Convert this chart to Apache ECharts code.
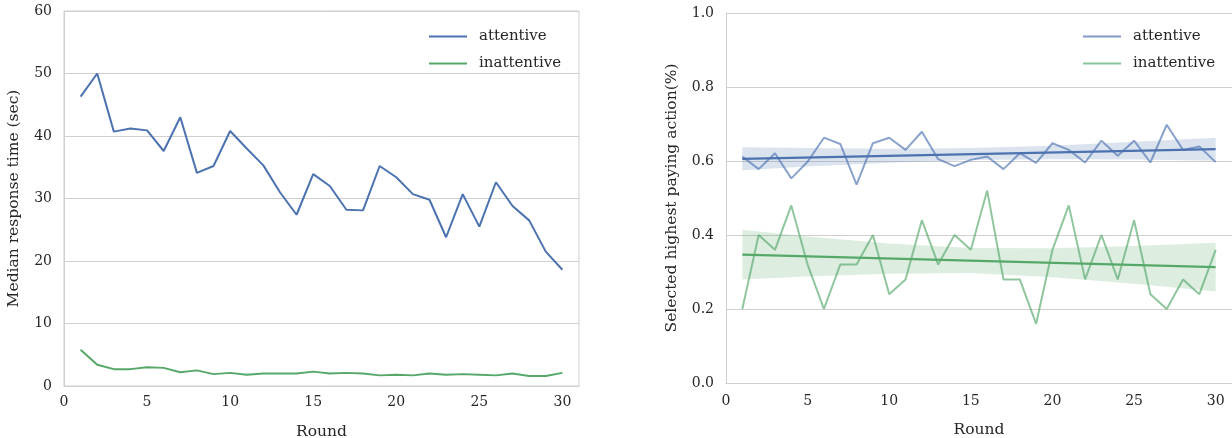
<!DOCTYPE html>
<html lang="en">
<head>
    <meta charset="UTF-8">
    <title>Response time and paying action</title>
    <script src="https://cdn.jsdelivr.net/npm/echarts@6/dist/echarts.min.js"></script>
    <style>
        html, body { margin: 0; padding: 0; background: #fff; }
        #chart { width: 1232px; height: 438px; }
    </style>
</head>
<body>
<div id="chart"></div>
<script>
    // rounds 1..30
    var rounds = [1, 2, 3, 4, 5, 6, 7, 8, 9, 10, 11, 12, 13, 14, 15,
                  16, 17, 18, 19, 20, 21, 22, 23, 24, 25, 26, 27, 28, 29, 30];

    // left: median response time (sec)
    var timeAttentive = [46.3, 50.0, 40.7, 41.2, 40.9, 37.6, 43.0, 34.1, 35.2, 40.8,
                         38.0, 35.3, 31.0, 27.4, 33.9, 32.0, 28.2, 28.1, 35.2, 33.4,
                         30.7, 29.8, 23.8, 30.7, 25.5, 32.6, 28.8, 26.5, 21.5, 18.6];
    var timeInattentive = [5.8, 3.4, 2.7, 2.7, 3.0, 2.9, 2.2, 2.5, 1.9, 2.1,
                           1.8, 2.0, 2.0, 2.0, 2.3, 2.0, 2.1, 2.0, 1.7, 1.8,
                           1.7, 2.0, 1.8, 1.9, 1.8, 1.7, 2.0, 1.6, 1.6, 2.1];

    // right: share selecting highest paying action
    var payAttentive = [0.612, 0.578, 0.621, 0.553, 0.598, 0.663, 0.646, 0.536, 0.648, 0.663,
                        0.630, 0.679, 0.605, 0.586, 0.603, 0.612, 0.578, 0.621, 0.595, 0.648,
                        0.630, 0.596, 0.655, 0.614, 0.655, 0.596, 0.698, 0.630, 0.639, 0.597];
    var payInattentive = [0.20, 0.40, 0.36, 0.48, 0.32, 0.20, 0.32, 0.32, 0.40, 0.24,
                          0.28, 0.44, 0.32, 0.40, 0.36, 0.52, 0.28, 0.28, 0.16, 0.36,
                          0.48, 0.28, 0.40, 0.28, 0.44, 0.24, 0.20, 0.28, 0.24, 0.36];

    // regression lines + confidence bands
    var fitX = [1, 30];
    var fitAttentive = [0.606, 0.632];
    var fitInattentive = [0.347, 0.313];
    var bandX = [1, 5, 10, 15, 20, 25, 30];
    var bandAttLo = [0.575, 0.585, 0.595, 0.603, 0.605, 0.604, 0.601];
    var bandAttHi = [0.637, 0.635, 0.633, 0.635, 0.641, 0.652, 0.663];
    var bandInaLo = [0.280, 0.288, 0.295, 0.297, 0.286, 0.268, 0.247];
    var bandInaHi = [0.414, 0.396, 0.377, 0.365, 0.364, 0.370, 0.379];

    var BLUE = '#4C72B0';
    var GREEN = '#55A868';
    var TXT = '#262626';
    var GRIDC = '#cfcfcf';
    var FONT = 'DejaVu Serif';

    function pairs(xs, ys) {
        return xs.map(function (x, i) { return [x, ys[i]]; });
    }

    function bandSeries(lo, hi, color) {
        return {
            type: 'custom',
            xAxisIndex: 1,
            yAxisIndex: 1,
            silent: true,
            z: 1,
            data: [[bandX[0], lo[0]]],
            renderItem: function (params, api) {
                var pts = [];
                for (var i = 0; i < bandX.length; i++) pts.push(api.coord([bandX[i], hi[i]]));
                for (var j = bandX.length - 1; j >= 0; j--) pts.push(api.coord([bandX[j], lo[j]]));
                return {
                    type: 'polygon',
                    shape: { points: pts },
                    style: { fill: color }
                };
            }
        };
    }

    var axisTxt = { color: TXT, fontFamily: FONT, fontSize: 14 };
    var nameTxt = { color: TXT, fontFamily: FONT, fontSize: 15.5 };

    var chart = echarts.init(document.getElementById('chart'));
    var option = {
        animation: false,
        textStyle: { fontFamily: FONT },
        grid: [
            { left: 64, right: 653, top: 11, bottom: 52, outerBoundsMode: 'none', containLabel: false,
              show: true, borderColor: GRIDC, borderWidth: 1, backgroundColor: 'transparent' },
            { left: 726, right: 0, top: 13, bottom: 55, outerBoundsMode: 'none', containLabel: false }
        ],
        legend: [
            {
                data: ['attentive', 'inattentive'],
                orient: 'vertical',
                left: 424, top: 24,
                itemWidth: 38, itemHeight: 14, itemGap: 12,
                icon: 'path://M0,6 L38,6 L38,8 L0,8 Z',
                textStyle: { color: TXT, fontFamily: FONT, fontSize: 15, padding: [0, 0, 0, 7] }
            },
            {
                data: ['attentive ', 'inattentive '],
                orient: 'vertical',
                left: 1078, top: 24,
                itemWidth: 38, itemHeight: 14, itemGap: 12,
                icon: 'path://M0,6 L38,6 L38,8 L0,8 Z',
                formatter: function (n) { return n.trim(); },
                textStyle: { color: TXT, fontFamily: FONT, fontSize: 15, padding: [0, 0, 0, 7] }
            }
        ],
        xAxis: [
            {
                type: 'value', gridIndex: 0, min: 0, max: 31, interval: 5,
                name: 'Round', nameLocation: 'middle', nameGap: 38,
                nameTextStyle: nameTxt,
                axisLine: { show: true, lineStyle: { color: GRIDC } },
                axisTick: { show: false },
                splitLine: { show: false },
                axisLabel: Object.assign({ margin: 9 }, axisTxt)
            },
            {
                type: 'value', gridIndex: 1, min: 0, max: 31, interval: 5,
                name: 'Round', nameLocation: 'middle', nameGap: 39,
                nameTextStyle: nameTxt,
                axisLine: { show: true, lineStyle: { color: GRIDC } },
                axisTick: { show: false },
                splitLine: { show: false },
                axisLabel: Object.assign({ margin: 11 }, axisTxt)
            }
        ],
        yAxis: [
            {
                type: 'value', gridIndex: 0, min: 0, max: 60, interval: 10,
                name: 'Median response time (sec)', nameLocation: 'middle', nameGap: 42,
                nameTextStyle: nameTxt,
                axisLine: { show: true, lineStyle: { color: GRIDC } },
                axisTick: { show: false },
                splitLine: { show: true, lineStyle: { color: GRIDC, width: 1 } },
                axisLabel: Object.assign({ margin: 12 }, axisTxt)
            },
            {
                type: 'value', gridIndex: 1, min: 0, max: 1, interval: 0.2,
                name: 'Selected highest paying action(%)', nameLocation: 'middle', nameGap: 46,
                nameTextStyle: nameTxt,
                axisLine: { show: true, lineStyle: { color: GRIDC } },
                axisTick: { show: false },
                splitLine: { show: true, lineStyle: { color: GRIDC, width: 1 } },
                axisLabel: Object.assign({ margin: 12, formatter: function (v) { return v.toFixed(1); } }, axisTxt)
            }
        ],
        series: [
            {
                name: 'attentive', type: 'line', xAxisIndex: 0, yAxisIndex: 0,
                data: pairs(rounds, timeAttentive), symbol: 'none',
                itemStyle: { color: BLUE }, lineStyle: { color: BLUE, width: 2 }, z: 3
            },
            {
                name: 'inattentive', type: 'line', xAxisIndex: 0, yAxisIndex: 0,
                data: pairs(rounds, timeInattentive), symbol: 'none',
                itemStyle: { color: GREEN }, lineStyle: { color: GREEN, width: 2 }, z: 3
            },
            bandSeries(bandAttLo, bandAttHi, 'rgba(76,114,176,0.2)'),
            bandSeries(bandInaLo, bandInaHi, 'rgba(85,168,104,0.2)'),
            {
                name: 'attentive ', type: 'line', xAxisIndex: 1, yAxisIndex: 1,
                data: pairs(rounds, payAttentive), symbol: 'none',
                itemStyle: { color: '#8299C9' }, lineStyle: { color: BLUE, width: 2, opacity: 0.65 }, z: 3
            },
            {
                name: 'inattentive ', type: 'line', xAxisIndex: 1, yAxisIndex: 1,
                data: pairs(rounds, payInattentive), symbol: 'none',
                itemStyle: { color: '#88C49A' }, lineStyle: { color: GREEN, width: 2, opacity: 0.65 }, z: 3
            },
            {
                name: 'fit attentive', type: 'line', xAxisIndex: 1, yAxisIndex: 1,
                data: pairs(fitX, fitAttentive), symbol: 'none', silent: true,
                lineStyle: { color: BLUE, width: 2.2 }, z: 4
            },
            {
                name: 'fit inattentive', type: 'line', xAxisIndex: 1, yAxisIndex: 1,
                data: pairs(fitX, fitInattentive), symbol: 'none', silent: true,
                lineStyle: { color: GREEN, width: 2.2 }, z: 4
            }
        ]
    };
    chart.setOption(option);
</script>
</body>
</html>
